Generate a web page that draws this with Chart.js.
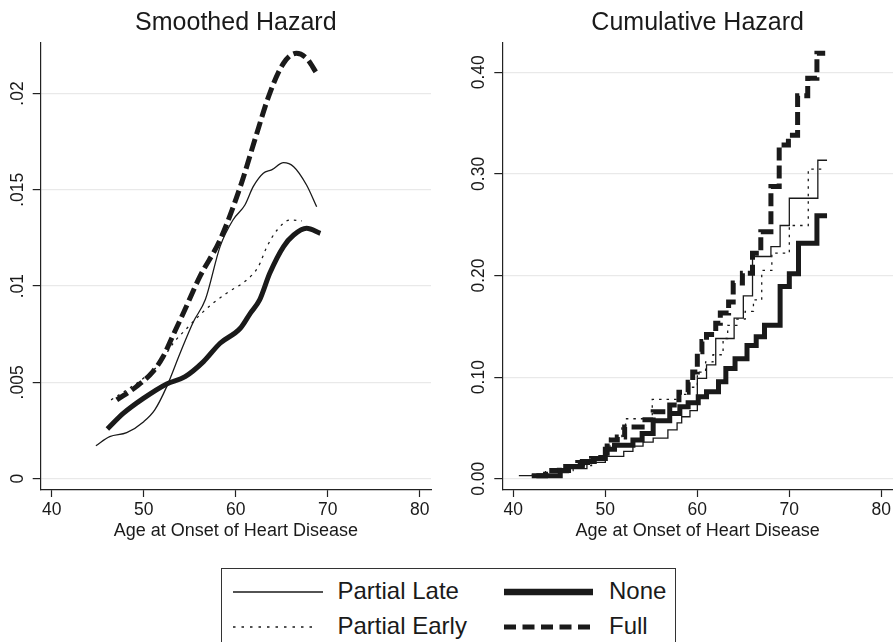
<!DOCTYPE html>
<html>
<head>
<meta charset="utf-8">
<script src="https://cdn.jsdelivr.net/npm/chart.js@4.4.1/dist/chart.umd.min.js"></script>
<style>
  html, body { margin:0; padding:0; background:#fff; }
  body { width:893px; height:642px; position:relative; overflow:hidden; font-family:"Liberation Sans", Arial, Helvetica, sans-serif; color:#1a1a1a; }
  canvas { position:absolute; top:0; }
  #c1 { left:0; }
  #c2 { left:446px; }
  #legend { position:absolute; left:221px; top:568px; width:455px; height:80px; border:1.3px solid #333; box-sizing:border-box; }
  #legend .item { position:absolute; font-size:24px; line-height:24px; white-space:nowrap; }
  #legend svg { position:absolute; overflow:visible; }
</style>
</head>
<body>
<canvas id="c1" width="446" height="545"></canvas>
<canvas id="c2" width="447" height="545"></canvas>
<div id="legend"></div>
<script>
// ---------- tick labels ----------
const ageTicks = [40, 50, 60, 70, 80];
const smoothTicks = [0, 0.005, 0.01, 0.015, 0.02];
const smoothTickLabels = ['0', '.005', '.01', '.015', '.02'];
const cumTicks = [0, 0.1, 0.2, 0.3, 0.4];
const cumTickLabels = ['0.00', '0.10', '0.20', '0.30', '0.40'];

const seriesNames = ['Partial Late', 'Partial Early', 'None', 'Full'];

// ---------- Smoothed hazard ----------
const smLateX  = [44.8, 46.3, 48.15, 50.0, 51.2, 52.5, 53.95, 55.4, 56.7, 58.3, 59.7, 61.0, 61.9, 63.0, 63.9, 65.2, 66.3, 67.7, 68.8];
const smLateY  = [0.00171, 0.00218, 0.00239, 0.00296, 0.00357, 0.00478, 0.00651, 0.00815, 0.0093, 0.01205, 0.01343, 0.01421, 0.01516, 0.01586, 0.01603, 0.01641, 0.0162, 0.01525, 0.01412];
const smEarlyX = [46.45, 48.15, 49.96, 51.77, 53.2, 54.7, 56.1, 57.5, 59.0, 61.2, 62.45, 63.4, 64.5, 65.9, 67.2];
const smEarlyY = [0.00409, 0.00461, 0.00521, 0.00599, 0.00703, 0.00781, 0.0085, 0.0091, 0.00963, 0.01032, 0.011, 0.01205, 0.01291, 0.01343, 0.01338];
const smNoneX  = [46.05, 47.8, 49.96, 52.5, 54.5, 56.5, 58.3, 60.5, 61.6, 62.6, 63.7, 65.2, 66.3, 67.7, 69.2];
const smNoneY  = [0.00258, 0.0034, 0.00417, 0.00492, 0.0053, 0.00608, 0.00703, 0.00781, 0.0086, 0.00928, 0.01066, 0.01205, 0.01265, 0.013, 0.01274];
const smFullX  = [47.07, 49.2, 51.0, 52.1, 53.2, 54.3, 56.1, 58.3, 60.5, 62.3, 63.7, 65.2, 66.6, 67.7, 68.8];
const smFullY  = [0.00409, 0.00478, 0.00556, 0.00633, 0.00746, 0.00859, 0.01049, 0.0124, 0.01516, 0.01794, 0.02001, 0.02157, 0.02209, 0.02183, 0.02105];

// ---------- Cumulative hazard (step start points) ----------
const cuLateX  = [40.6, 45.0, 46.0, 48.0, 50.0, 52.0, 53.0, 54.1, 55.2, 56.8, 57.8, 58.3, 59.2, 60.0, 61.0, 62.0, 64.0, 65.0, 66.0, 68.0, 69.0, 70.0, 73.1, 74.1];
const cuLateY  = [0.003, 0.006, 0.010, 0.016, 0.022, 0.027, 0.032, 0.036, 0.040, 0.048, 0.055, 0.061, 0.067, 0.0987, 0.112, 0.138, 0.158, 0.180, 0.2187, 0.2285, 0.2492, 0.276, 0.3134, 0.3134];
const cuEarlyX = [42.0, 43.5, 46.5, 48.5, 50.0, 50.5, 51.8, 52.2, 55.1, 58.0, 59.0, 60.0, 60.9, 61.7, 62.8, 63.3, 64.3, 65.2, 66.1, 67.0, 68.1, 70.0, 72.06, 73.6];
const cuEarlyY = [0.004, 0.008, 0.013, 0.020, 0.030, 0.040, 0.050, 0.059, 0.078, 0.083, 0.090, 0.105, 0.115, 0.122, 0.138, 0.151, 0.157, 0.1646, 0.176, 0.205, 0.222, 0.2492, 0.3046, 0.3046];
const cuNoneX  = [42.0, 45.1, 46.0, 47.5, 48.8, 50.0, 51.0, 53.0, 54.0, 55.2, 57.0, 58.1, 59.0, 60.1, 61.0, 62.3, 63.1, 64.1, 65.4, 66.4, 67.3, 69.0, 70.0, 71.0, 73.0, 74.1];
const cuNoneY  = [0.003, 0.008, 0.012, 0.017, 0.020, 0.029, 0.033, 0.038, 0.0446, 0.057, 0.0643, 0.0708, 0.0748, 0.0807, 0.0856, 0.0954, 0.1085, 0.118, 0.131, 0.1397, 0.151, 0.1892, 0.2016, 0.2318, 0.2587, 0.2587];
const cuFullX  = [42.5, 43.5, 45.0, 47.0, 48.5, 49.5, 50.2, 51.3, 52.1, 54.0, 55.2, 57.0, 58.0, 59.0, 59.5, 60.0, 60.5, 61.0, 62.0, 62.5, 63.4, 63.9, 64.9, 66.0, 66.9, 68.0, 68.9, 69.9, 70.9, 72.0, 73.0, 73.9];
const cuFullY  = [0.003, 0.008, 0.012, 0.016, 0.020, 0.025, 0.038, 0.041, 0.051, 0.058, 0.066, 0.0725, 0.085, 0.095, 0.105, 0.125, 0.135, 0.142, 0.153, 0.163, 0.174, 0.1925, 0.2023, 0.222, 0.243, 0.2875, 0.3285, 0.338, 0.377, 0.394, 0.4187, 0.4187];

const FONT = '"Liberation Sans", Arial, Helvetica, sans-serif';
const INK = '#1a1a1a';
const styles = [
  { borderWidth: 1.3, borderDash: [] },
  { borderWidth: 1.3, borderDash: [2.5, 5] },
  { borderWidth: 5, borderDash: [] },
  { borderWidth: 5, borderDash: [13, 5] }
];

function pts(xs, ys) { return xs.map((x, i) => ({ x: x, y: ys[i] })); }

const yLabelPlugin = {
  id: 'yRotLabels',
  afterDraw(chart, args, opts) {
    const s = chart.scales.y, ctx = chart.ctx;
    ctx.save();
    ctx.font = '17.5px ' + FONT;
    ctx.fillStyle = INK;
    ctx.textAlign = 'center';
    ctx.textBaseline = 'middle';
    opts.values.forEach((v, i) => {
      const py = s.getPixelForValue(v);
      ctx.save();
      ctx.translate(s.right - opts.offset, py);
      ctx.rotate(-Math.PI / 2);
      ctx.fillText(opts.labels[i], 0, 0);
      ctx.restore();
    });
    ctx.restore();
  }
};

function makeChart(id, title, datasets, cfg) {
  return new Chart(document.getElementById(id), {
    type: 'line',
    data: { datasets: datasets },
    plugins: [yLabelPlugin],
    options: {
      responsive: false,
      animation: false,
      devicePixelRatio: 1,
      layout: { padding: { left: 0, right: cfg.padRight, top: 0, bottom: 0 } },
      elements: { point: { radius: 0 } },
      plugins: {
        legend: { display: false },
        tooltip: { enabled: false },
        title: {
          display: true, text: title, color: INK, fullSize: false,
          font: { family: FONT, size: 25, weight: 'normal', lineHeight: 1.2 },
          padding: { top: 8, bottom: 5 }
        },
        yRotLabels: { values: cfg.yTicks, labels: cfg.yLabels, offset: 23 }
      },
      scales: {
        x: {
          type: 'linear', min: 38.8, max: cfg.xMax,
          afterBuildTicks: s => { s.ticks = ageTicks.map(v => ({ value: v })); },
          afterFit: s => { s.height = 55; s.paddingLeft = 0; s.paddingRight = 0; },
          ticks: { color: INK, font: { family: FONT, size: 17.5 }, padding: 2.5, maxRotation: 0, autoSkip: false },
          grid: { drawOnChartArea: false, drawTicks: true, tickLength: 7, tickColor: '#222', tickWidth: 1.2 },
          border: { display: true, color: '#222', width: 1.2 },
          title: { display: true, text: 'Age at Onset of Heart Disease', color: INK,
                   font: { family: FONT, size: 18, lineHeight: 1.2 }, padding: { top: 0, bottom: 3.2 } }
        },
        y: {
          type: 'linear', min: cfg.yMin, max: cfg.yMax,
          afterBuildTicks: s => { s.ticks = cfg.yTicks.map(v => ({ value: v })); },
          afterFit: s => { s.width = cfg.yWidth; },
          ticks: { display: false },
          grid: { color: '#e9e9e9', lineWidth: 1.2, drawTicks: true, tickLength: 8, tickColor: '#222', tickWidth: 1.2 },
          border: { display: true, color: '#222', width: 1.2 }
        }
      }
    }
  });
}

function ds(name, data, i, stepped, smooth) {
  const d = {
    label: name, data: data, borderColor: INK, backgroundColor: INK,
    borderWidth: styles[i].borderWidth, borderDash: styles[i].borderDash,
    fill: false, pointRadius: 0, borderCapStyle: 'butt', borderJoinStyle: 'miter'
  };
  if (stepped) d.stepped = 'before';
  if (smooth) { d.cubicInterpolationMode = 'monotone'; d.borderJoinStyle = 'round'; }
  return d;
}

makeChart('c1', 'Smoothed Hazard', [
  ds(seriesNames[0], pts(smLateX, smLateY), 0, false, true),
  ds(seriesNames[1], pts(smEarlyX, smEarlyY), 1, false, true),
  ds(seriesNames[2], pts(smNoneX, smNoneY), 2, false, true),
  ds(seriesNames[3], pts(smFullX, smFullY), 3, false, true)
], { padRight: 15, xMax: 81.23, yMin: -0.000587, yMax: 0.02262, yTicks: smoothTicks, yLabels: smoothTickLabels, yWidth: 40.7 });

makeChart('c2', 'Cumulative Hazard', [
  ds(seriesNames[0], pts(cuLateX, cuLateY), 0, true, false),
  ds(seriesNames[1], pts(cuEarlyX, cuEarlyY), 1, true, false),
  ds(seriesNames[2], pts(cuNoneX, cuNoneY), 2, true, false),
  ds(seriesNames[3], pts(cuFullX, cuFullY), 3, true, false)
], { padRight: 0, xMax: 81.27, yMin: -0.0111, yMax: 0.4288, yTicks: cumTicks, yLabels: cumTickLabels, yWidth: 56.3 });

// ---------- legend (HTML) ----------
const legendItems = [
  { name: seriesNames[0], col: 0, row: 0, w: 1.4, dash: '', len: 90 },
  { name: seriesNames[2], col: 1, row: 0, w: 6.5, dash: '', len: 89 },
  { name: seriesNames[1], col: 0, row: 1, w: 1.4, dash: '2.5 6', len: 80 },
  { name: seriesNames[3], col: 1, row: 1, w: 5, dash: '12 6.5', len: 89 }
];
const legend = document.getElementById('legend');
const colX = [10.5, 282];     // relative to box
const textX = [115.5, 387];
const rowY = [23, 57.5];
legendItems.forEach(it => {
  const svg = document.createElementNS('http://www.w3.org/2000/svg', 'svg');
  svg.setAttribute('width', it.len); svg.setAttribute('height', 10);
  svg.style.left = colX[it.col] + 'px'; svg.style.top = (rowY[it.row] - 5) + 'px';
  const ln = document.createElementNS('http://www.w3.org/2000/svg', 'line');
  ln.setAttribute('x1', 0); ln.setAttribute('x2', it.len);
  ln.setAttribute('y1', 5); ln.setAttribute('y2', 5);
  ln.setAttribute('stroke', INK); ln.setAttribute('stroke-width', it.w);
  if (it.dash) ln.setAttribute('stroke-dasharray', it.dash);
  svg.appendChild(ln);
  legend.appendChild(svg);
  const t = document.createElement('div');
  t.className = 'item'; t.textContent = it.name;
  t.style.left = textX[it.col] + 'px'; t.style.top = (rowY[it.row] - 13) + 'px';
  legend.appendChild(t);
});
</script>
</body>
</html>
